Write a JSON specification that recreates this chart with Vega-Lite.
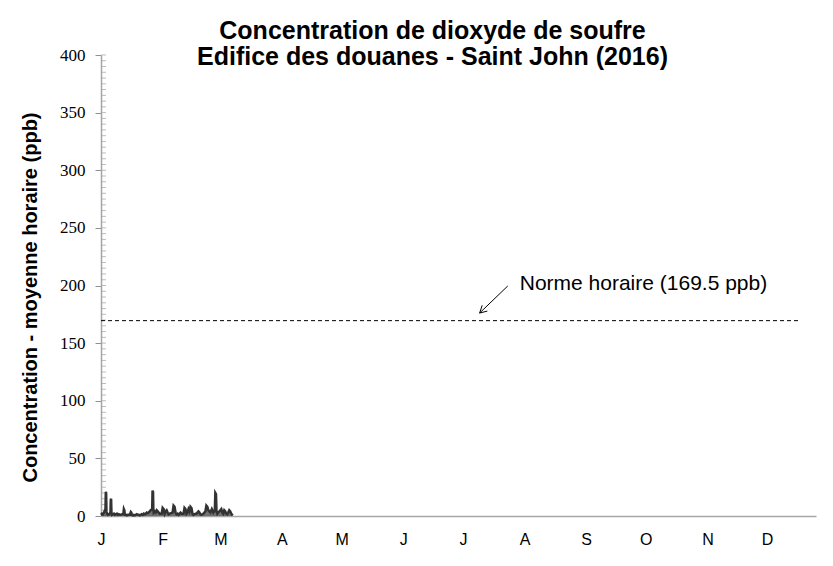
{
  "$schema": "https://vega.github.io/schema/vega-lite/v6.json",
  "width": 715,
  "height": 461,
  "autosize": {"type": "none"},
  "padding": {"left": 101, "top": 55, "right": 17, "bottom": 50},
  "background": "white",
  "config": {"view": {"stroke": null}},
  "title": {
    "text": ["Concentration de dioxyde de soufre", "Edifice des douanes - Saint John (2016)"],
    "font": "Liberation Sans",
    "fontWeight": "bold",
    "fontSize": 25,
    "lineHeight": 26,
    "color": "black",
    "anchor": "middle",
    "frame": "group",
    "dx": -26,
    "offset": -24
  },
  "layer": [
    {
      "data": {"values": [
        {"tv": 0},{"tv": 5},{"tv": 10},{"tv": 15},{"tv": 20},{"tv": 25},{"tv": 30},{"tv": 35},{"tv": 40},{"tv": 45},
        {"tv": 50},{"tv": 55},{"tv": 60},{"tv": 65},{"tv": 70},{"tv": 75},{"tv": 80},{"tv": 85},{"tv": 90},{"tv": 95},
        {"tv": 100},{"tv": 105},{"tv": 110},{"tv": 115},{"tv": 120},{"tv": 125},{"tv": 130},{"tv": 135},{"tv": 140},{"tv": 145},
        {"tv": 150},{"tv": 155},{"tv": 160},{"tv": 165},{"tv": 170},{"tv": 175},{"tv": 180},{"tv": 185},{"tv": 190},{"tv": 195},
        {"tv": 200},{"tv": 205},{"tv": 210},{"tv": 215},{"tv": 220},{"tv": 225},{"tv": 230},{"tv": 235},{"tv": 240},{"tv": 245},
        {"tv": 250},{"tv": 255},{"tv": 260},{"tv": 265},{"tv": 270},{"tv": 275},{"tv": 280},{"tv": 285},{"tv": 290},{"tv": 295},
        {"tv": 300},{"tv": 305},{"tv": 310},{"tv": 315},{"tv": 320},{"tv": 325},{"tv": 330},{"tv": 335},{"tv": 340},{"tv": 345},
        {"tv": 350},{"tv": 355},{"tv": 360},{"tv": 365},{"tv": 370},{"tv": 375},{"tv": 380},{"tv": 385},{"tv": 390},{"tv": 395},
        {"tv": 400}
      ]},
      "mark": {"type": "tick", "orient": "horizontal", "color": "#a0a0a0", "thickness": 1, "size": 5, "xOffset": -2.5, "clip": false},
      "encoding": {
        "x": {"datum": "2016-01-01T00:00", "type": "temporal"},
        "y": {"field": "tv", "type": "quantitative"}
      }
    },
    {
      "data": {"values": [
        {"t": "2016-01-01T00:00", "v": 1},
        {"t": "2016-01-01T12:00", "v": 2},
        {"t": "2016-01-02T00:00", "v": 1.5},
        {"t": "2016-01-02T12:00", "v": 3},
        {"t": "2016-01-03T00:00", "v": 5},
        {"t": "2016-01-03T06:00", "v": 6},
        {"t": "2016-01-03T10:00", "v": 21},
        {"t": "2016-01-03T14:00", "v": 20},
        {"t": "2016-01-03T18:00", "v": 4},
        {"t": "2016-01-04T00:00", "v": 2},
        {"t": "2016-01-04T12:00", "v": 1},
        {"t": "2016-01-05T00:00", "v": 1.5},
        {"t": "2016-01-05T18:00", "v": 3},
        {"t": "2016-01-05T22:00", "v": 14},
        {"t": "2016-01-06T02:00", "v": 15},
        {"t": "2016-01-06T06:00", "v": 3},
        {"t": "2016-01-06T12:00", "v": 1},
        {"t": "2016-01-07T00:00", "v": 1.5},
        {"t": "2016-01-07T12:00", "v": 2},
        {"t": "2016-01-08T00:00", "v": 1},
        {"t": "2016-01-08T12:00", "v": 1.5},
        {"t": "2016-01-09T00:00", "v": 2},
        {"t": "2016-01-09T12:00", "v": 1},
        {"t": "2016-01-10T00:00", "v": 1.5},
        {"t": "2016-01-10T12:00", "v": 1},
        {"t": "2016-01-11T00:00", "v": 1},
        {"t": "2016-01-12T06:00", "v": 2},
        {"t": "2016-01-12T12:00", "v": 6},
        {"t": "2016-01-12T18:00", "v": 5},
        {"t": "2016-01-13T00:00", "v": 1},
        {"t": "2016-01-13T12:00", "v": 1},
        {"t": "2016-01-14T00:00", "v": 0.5},
        {"t": "2016-01-14T12:00", "v": 1},
        {"t": "2016-01-15T12:00", "v": 1},
        {"t": "2016-01-16T00:00", "v": 3.5},
        {"t": "2016-01-16T06:00", "v": 3},
        {"t": "2016-01-16T12:00", "v": 1},
        {"t": "2016-01-17T00:00", "v": 0.5},
        {"t": "2016-01-17T12:00", "v": 1},
        {"t": "2016-01-18T00:00", "v": 0.5},
        {"t": "2016-01-18T12:00", "v": 1},
        {"t": "2016-01-19T00:00", "v": 1.5},
        {"t": "2016-01-19T12:00", "v": 1},
        {"t": "2016-01-20T00:00", "v": 1},
        {"t": "2016-01-20T12:00", "v": 0.5},
        {"t": "2016-01-21T00:00", "v": 1},
        {"t": "2016-01-21T12:00", "v": 1.5},
        {"t": "2016-01-22T00:00", "v": 1},
        {"t": "2016-01-22T12:00", "v": 2},
        {"t": "2016-01-23T00:00", "v": 1.5},
        {"t": "2016-01-23T12:00", "v": 2},
        {"t": "2016-01-24T00:00", "v": 3},
        {"t": "2016-01-24T12:00", "v": 2.5},
        {"t": "2016-01-25T00:00", "v": 3},
        {"t": "2016-01-25T12:00", "v": 4},
        {"t": "2016-01-26T00:00", "v": 5},
        {"t": "2016-01-26T18:00", "v": 6},
        {"t": "2016-01-26T22:00", "v": 22},
        {"t": "2016-01-27T04:00", "v": 21},
        {"t": "2016-01-27T08:00", "v": 5},
        {"t": "2016-01-27T12:00", "v": 3},
        {"t": "2016-01-28T00:00", "v": 4},
        {"t": "2016-01-28T12:00", "v": 3},
        {"t": "2016-01-29T00:00", "v": 5},
        {"t": "2016-01-29T12:00", "v": 4},
        {"t": "2016-01-30T00:00", "v": 3},
        {"t": "2016-01-30T12:00", "v": 2},
        {"t": "2016-01-31T12:00", "v": 2},
        {"t": "2016-02-01T00:00", "v": 7},
        {"t": "2016-02-01T12:00", "v": 6},
        {"t": "2016-02-02T00:00", "v": 2},
        {"t": "2016-02-02T12:00", "v": 4},
        {"t": "2016-02-03T00:00", "v": 5},
        {"t": "2016-02-03T12:00", "v": 3},
        {"t": "2016-02-04T00:00", "v": 1.5},
        {"t": "2016-02-04T12:00", "v": 2},
        {"t": "2016-02-06T00:00", "v": 3},
        {"t": "2016-02-06T12:00", "v": 9},
        {"t": "2016-02-07T00:00", "v": 8},
        {"t": "2016-02-07T12:00", "v": 3},
        {"t": "2016-02-08T00:00", "v": 1.5},
        {"t": "2016-02-08T12:00", "v": 2},
        {"t": "2016-02-09T00:00", "v": 1},
        {"t": "2016-02-09T12:00", "v": 2},
        {"t": "2016-02-10T00:00", "v": 3},
        {"t": "2016-02-10T12:00", "v": 2},
        {"t": "2016-02-11T12:00", "v": 2},
        {"t": "2016-02-12T00:00", "v": 7},
        {"t": "2016-02-12T12:00", "v": 6},
        {"t": "2016-02-13T00:00", "v": 2},
        {"t": "2016-02-13T12:00", "v": 3},
        {"t": "2016-02-14T00:00", "v": 6},
        {"t": "2016-02-14T12:00", "v": 4},
        {"t": "2016-02-15T00:00", "v": 8},
        {"t": "2016-02-15T12:00", "v": 7},
        {"t": "2016-02-16T00:00", "v": 2},
        {"t": "2016-02-16T12:00", "v": 1},
        {"t": "2016-02-17T00:00", "v": 1.5},
        {"t": "2016-02-17T12:00", "v": 2},
        {"t": "2016-02-18T00:00", "v": 2},
        {"t": "2016-02-18T12:00", "v": 3},
        {"t": "2016-02-19T00:00", "v": 4},
        {"t": "2016-02-19T12:00", "v": 3},
        {"t": "2016-02-20T00:00", "v": 1.5},
        {"t": "2016-02-20T12:00", "v": 1},
        {"t": "2016-02-21T00:00", "v": 1.5},
        {"t": "2016-02-21T12:00", "v": 2},
        {"t": "2016-02-22T00:00", "v": 3},
        {"t": "2016-02-22T12:00", "v": 4},
        {"t": "2016-02-23T00:00", "v": 9},
        {"t": "2016-02-23T12:00", "v": 8},
        {"t": "2016-02-24T00:00", "v": 5},
        {"t": "2016-02-24T12:00", "v": 4},
        {"t": "2016-02-25T00:00", "v": 3},
        {"t": "2016-02-25T18:00", "v": 6},
        {"t": "2016-02-26T00:00", "v": 5},
        {"t": "2016-02-26T12:00", "v": 3},
        {"t": "2016-02-27T06:00", "v": 5},
        {"t": "2016-02-27T12:00", "v": 20},
        {"t": "2016-02-27T20:00", "v": 19},
        {"t": "2016-02-28T02:00", "v": 4},
        {"t": "2016-02-28T12:00", "v": 2},
        {"t": "2016-02-29T00:00", "v": 3},
        {"t": "2016-03-01T00:00", "v": 5},
        {"t": "2016-03-01T12:00", "v": 6},
        {"t": "2016-03-02T00:00", "v": 3},
        {"t": "2016-03-02T12:00", "v": 2},
        {"t": "2016-03-03T00:00", "v": 5},
        {"t": "2016-03-03T12:00", "v": 4},
        {"t": "2016-03-04T00:00", "v": 2},
        {"t": "2016-03-04T12:00", "v": 1.5},
        {"t": "2016-03-05T00:00", "v": 3},
        {"t": "2016-03-05T12:00", "v": 5},
        {"t": "2016-03-06T00:00", "v": 4},
        {"t": "2016-03-06T12:00", "v": 2},
        {"t": "2016-03-07T00:00", "v": 1},
        {"t": "2016-03-07T06:00", "v": 0.5}
      ]},
      "mark": {"type": "area", "color": "#383838", "line": {"color": "#333333", "strokeWidth": 2.5}},
      "encoding": {
        "x": {
          "field": "t", "type": "temporal",
          "scale": {"domain": [{"year": 2016, "month": 1, "date": 1}, {"year": 2016, "month": 12, "date": 25, "hours": 14}]},
          "axis": {
            "title": null,
            "tickCount": {"interval": "month", "step": 1},
            "format": "%b",
            "labelExpr": "slice(datum.label, 0, 1)",
            "labelFont": "Liberation Sans",
            "labelFontSize": 16,
            "labelColor": "black",
            "labelAlign": "center",
            "labelPadding": 15,
            "labelFlush": false,
            "labelOverlap": false,
            "ticks": false,
            "grid": false,
            "domainColor": "#a6a6a6",
            "domainWidth": 1.5
          }
        },
        "y": {
          "field": "v", "type": "quantitative",
          "scale": {"domain": [0, 400], "nice": false},
          "axis": {
            "title": "Concentration - moyenne horaire (ppb)",
            "titleFont": "Liberation Sans",
            "titleFontWeight": "bold",
            "titleFontSize": 20,
            "titleColor": "black",
            "titleX": -71,
            "titleY": 242,
            "titleAlign": "center",
            "titleBaseline": "middle",
            "titleAngle": -90,
            "values": [0, 50, 100, 150, 200, 250, 300, 350, 400],
            "labelFont": "Liberation Sans Narrow",
            "labelFontSize": 17,
            "labelColor": "black",
            "labelPadding": 10,
            "labelFlush": false,
            "tickSize": 6,
            "tickColor": "#909090",
            "domainColor": "#a6a6a6",
            "domainWidth": 1.5,
            "grid": false
          }
        }
      }
    },
    {
      "data": {"values": [{"start": "2016-01-01T00:00", "end": "2016-12-17T12:00", "norme": 169.5}]},
      "mark": {"type": "rule", "color": "black", "strokeWidth": 1, "strokeDash": [4, 3]},
      "encoding": {
        "x": {"field": "start", "type": "temporal"},
        "x2": {"field": "end"},
        "y": {"field": "norme", "type": "quantitative"}
      }
    },
    {
      "data": {"values": [
        {"x1": "2016-07-23T14:00", "y1": 199.6, "x2": "2016-07-09T10:00", "y2": 176.1},
        {"x1": "2016-07-09T10:00", "y1": 176.1, "x2": "2016-07-13T07:00", "y2": 177.8},
        {"x1": "2016-07-09T10:00", "y1": 176.1, "x2": "2016-07-10T17:00", "y2": 182.8}
      ]},
      "mark": {"type": "rule", "color": "black", "strokeWidth": 1},
      "encoding": {
        "x": {"field": "x1", "type": "temporal"},
        "x2": {"field": "x2"},
        "y": {"field": "y1", "type": "quantitative"},
        "y2": {"field": "y2"}
      }
    },
    {
      "data": {"values": [{"t": "2016-07-29T14:00", "v": 201.3, "label": "Norme horaire (169.5 ppb)"}]},
      "mark": {"type": "text", "align": "left", "baseline": "middle", "font": "Liberation Sans", "fontSize": 21, "color": "black"},
      "encoding": {
        "x": {"field": "t", "type": "temporal"},
        "y": {"field": "v", "type": "quantitative"},
        "text": {"field": "label"}
      }
    }
  ]
}
